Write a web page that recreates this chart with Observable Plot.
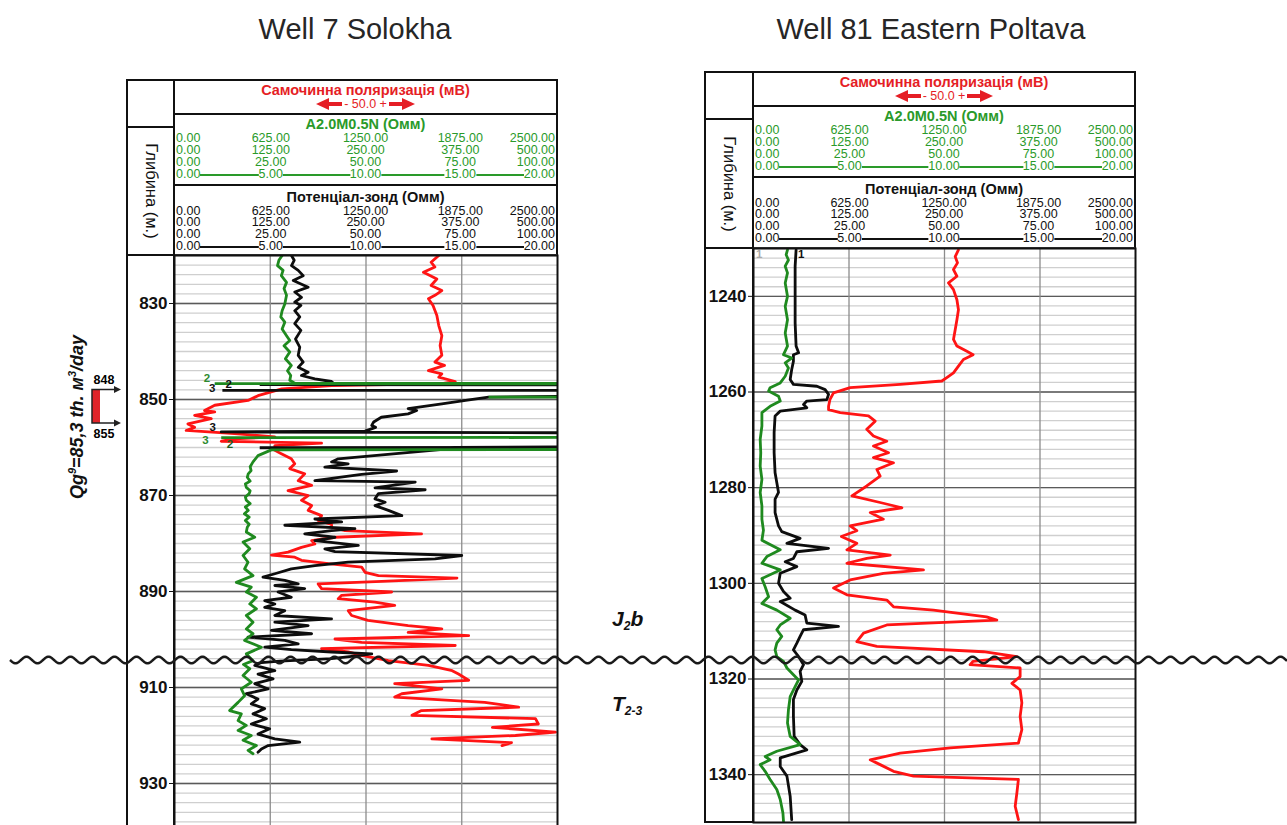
<!DOCTYPE html>
<html><head><meta charset="utf-8">
<script src="https://cdn.jsdelivr.net/npm/d3@7"></script>
<script src="https://cdn.jsdelivr.net/npm/@observablehq/plot@0.6"></script>
<style>
html,body{margin:0;padding:0;background:#fff;}
body{width:1287px;height:825px;overflow:hidden;position:relative;font-family:"Liberation Sans",Arial,sans-serif;}
.abs{position:absolute;box-sizing:border-box;}
.title{font-size:29px;line-height:29px;color:#262626;transform:translateX(-50%);white-space:nowrap;}
.box{position:absolute;box-sizing:border-box;border:2px solid #111;background:#fff;}
.box.clear{background:transparent;pointer-events:none;z-index:5;}
.ht{position:absolute;left:0;right:0;text-align:center;font-weight:bold;font-size:14.5px;line-height:13px;white-space:nowrap;}
.row{position:absolute;left:1px;right:1px;height:11px;font-size:12.5px;line-height:11px;}
.row span{position:absolute;top:0;white-space:nowrap;background:#fff;}
.row .ln{position:absolute;left:0;right:0;top:5px;height:2px;}
.rot{position:absolute;left:50%;top:50%;transform:translate(-50%,-50%) rotate(90deg);white-space:nowrap;font-size:16.5px;color:#111;}
.geo{position:absolute;font-weight:bold;font-style:italic;font-size:21px;color:#111;white-space:nowrap;}
.geo sub{font-size:12px;vertical-align:-4px;}
svg.well [aria-label="y-axis tick label"]{font-weight:bold;}
</style>
</head><body>
<script>
// ---------------- texts ----------------
const wellTitles = ["Well 7 Solokha", "Well 81 Eastern Poltava"];
const spTitle = "Самочинна поляризація (мВ)";
const spScale = "- 50.0 +";
const a2Title = "A2.0M0.5N (Омм)";
const potTitle = "Потенціал-зонд (Омм)";
const depthTitle = "Глибина (м.)";
const scaleRows = [
  ["0.00","625.00","1250.00","1875.00","2500.00"],
  ["0.00","125.00","250.00","375.00","500.00"],
  ["0.00","25.00","50.00","75.00","100.00"],
  ["0.00","5.00","10.00","15.00","20.00"]
];
const rateText = 'Qg<sup>9</sup>=85,3 th. м<sup>3</sup>/day';
const perfTop = 848, perfBottom = 855;
const horizonAbove = 'J<sub>2</sub>b';
const horizonBelow = 'T<sub>2-3</sub>';

// ---------------- depth ranges / ticks ----------------
const solokhaDepth = [820, 940];
const solokhaMajor = [830, 850, 870, 890, 910, 930];
const poltavaDepth = [1230, 1350];
const poltavaMajor = [1240, 1260, 1280, 1300, 1320, 1340];
const gridX = [5, 10, 15];

// ---------------- Well 7 Solokha curves [depth, value 0..20] ----------------
const solokhaGreen1 = [[820,5.62],[821,5.45],[822.1,5.38],[823.1,5.67],[824.2,5.58],[825.6,5.85],[826.9,5.72],[828.3,5.85],[830.1,5.76],[831.5,5.62],[832.8,5.55],[833.9,5.76],[835.3,5.62],[836.7,5.85],[837.7,6.02],[838.8,5.72],[840.1,6.02],[841.5,5.79],[842.9,6.1],[844,5.9],[845,6.07],[846,6.02],[846.6,6.28],[846.65,22]];
const solokhaGreen2 = [[860.4,22],[860.5,5.06],[861.7,4.36],[863,4.1],[864,3.95],[864.8,4.0],[865.5,3.85],[866.2,3.8],[867,3.95],[867.6,3.7],[868.3,3.75],[869,3.95],[869.6,3.9],[870.3,3.7],[871,3.75],[871.7,3.95],[872.4,3.7],[873.1,3.85],[873.8,3.65],[874.5,3.9],[875.2,3.7],[876,3.9],[876.6,3.8],[877.6,3.75],[878.7,4.19],[879.7,3.58],[881.1,3.93],[882.5,3.58],[883.9,3.84],[885.3,3.66],[886.7,4.1],[888.1,3.23],[889.1,4.01],[890.1,3.75],[891.2,4.28],[892.6,3.93],[893.6,4.28],[895,3.75],[896.4,4.1],[897.8,3.75],[898.8,4.1],[900.2,3.66],[901.6,4.54],[903,3.75],[904.4,4.1],[905.2,3.6],[906.1,3.93],[907.5,3.58],[908.9,4.01],[910.3,3.49],[911.7,3.66],[913.1,3.32],[914.8,2.88],[915.5,3.49],[916.9,3.32],[917.9,3.75],[918.95,3.32],[920,4.01],[921,3.58],[922.1,4.28],[923.1,3.84],[923.8,4.1]];
// wrapped (backup-scale) segments: [depth1, value1, depth2, value2]
const solokhaGreenWrap = [[846.7,2.1,846.75,22],[849.5,16.4,849.5,22],[857.95,2.44,857.9,22]];

const solokhaBlack1 = [[820,6.11],[821,6.25],[822.1,6.11],[823.1,6.46],[824.2,6.72],[825.2,6.2],[826.6,6.98],[827.6,6.28],[828.7,6.63],[829.7,6.28],[830.4,6.6],[831.5,6.28],[832.8,6.54],[834.2,6.28],[835.6,6.6],[837.4,6.32],[839.1,6.54],[840.8,6.46],[842.2,6.72],[843.3,6.46],[844.3,6.98],[845,6.63],[845.7,7.33],[846.25,8.2],[846.6,8.3],[846.7,22]];
const solokhaBlack2 = [[849.3,22],[849.5,16.4],[850.2,15.2],[850.9,13.96],[851.9,12.2],[852.3,12.65],[853,12.2],[853.7,10.8],[854.7,10.4],[855.4,10.3],[855.8,10.5],[856.6,9.95],[856.75,2.44],[856.95,22]];
const solokhaBlack3 = [[859.85,22],[860,14.6],[860.3,14.3],[862.35,8.55],[863,8.2],[863.4,9.07],[864.1,7.85],[864.9,11.6],[865.6,9.77],[866.9,7.33],[867.2,12.57],[868.4,10.47],[868.8,13.09],[869.6,10.65],[870.7,10.47],[871.4,11.0],[872.1,10.47],[873.1,11.17],[874.2,11.87],[874.9,7.33],[875.5,8.73],[876.2,5.76],[876.9,9.42],[877.3,8.2],[878,6.8],[878.7,8.38],[879.4,7.33],[880.4,9.6],[881.1,7.85],[881.7,8.38],[882.5,15.0],[883.2,13.6],[883.9,9.07],[884.6,7.33],[885.3,6.1],[886.3,5.24],[887,4.62],[887.7,5.76],[888.4,6.46],[888.75,5.24],[889.4,6.8],[890.1,5.41],[891.2,6.1],[891.9,4.71],[892.6,5.24],[893.3,4.71],[894,5.76],[895,5.24],[895.7,8.2],[896.4,5.24],[897.1,6.98],[898.1,5.06],[898.8,7.16],[899.5,3.84],[900.2,5.76],[900.9,6.46],[901.6,4.71],[902.1,6.1],[902.6,8.2],[903,10.3],[903.5,9.25],[904,8.2],[904.5,5.5],[904.8,4.54],[905.4,4.19],[906.5,5.24],[907.2,4.36],[908.2,5.15],[909.2,4.19],[910.3,4.89],[911.3,3.75],[912.4,4.36],[913.4,4.01],[914.4,4.71],[915.5,4.1],[916.5,4.8],[917.6,4.01],[918.6,4.97],[919.7,4.36],[920.7,5.24],[921.4,6.54],[922.1,4.89],[922.8,4.54],[923.5,4.36]];
const solokhaBlackWrap = [[846.9,4.45,846.95,22],[848.1,2.5,848.1,22],[860.05,4.45,859.95,22]];

const solokhaRed = [[820,13.8],[821.4,13.4],[822.4,13.6],[823.5,13.0],[824.9,13.7],[826.25,13.4],[827.3,13.96],[828.3,13.6],[829,13.26],[830.4,13.5],[832.5,13.7],[834.6,13.8],[836.7,13.96],[838.75,13.87],[840.8,13.96],[842.2,13.6],[842.9,14.1],[844,13.26],[844.65,13.96],[845.35,13.8],[846.25,14.66],[846.7,13.96],[847.1,8.2],[847.8,5.6],[849.2,4.36],[850.2,3.84],[851.2,2.1],[852.3,1.57],[852.6,2.1],[853.3,1.05],[854,1.92],[855.1,0.7],[855.8,1.05],[856.45,0.61],[857.1,3.14],[857.8,5.24],[858.2,3.14],[858.7,2.44],[859.1,7.68],[859.6,5.24],[860.6,5.24],[861.3,5.58],[862.35,6.1],[863.4,6.28],[864.4,6.02],[865.5,6.8],[866.9,6.46],[867.9,7.16],[869,5.93],[870,6.98],[871,6.63],[872.1,7.16],[873.1,6.98],[874.2,7.68],[875.2,7.5],[876,8.2],[876.6,8.2],[877.3,8.9],[878,12.9],[878.7,8.38],[879.4,7.16],[880.1,7.33],[880.8,6.63],[881.8,5.93],[882.4,5.06],[882.85,6.28],[883.5,6.63],[884.2,8.03],[884.9,9.77],[886,9.95],[886.7,10.65],[887.2,14.75],[887.9,10.82],[888.4,7.5],[889.4,7.68],[890.1,11.34],[890.8,8.73],[891.5,8.55],[892.2,10.47],[892.9,11.5],[894,9.07],[895,9.25],[896,10.1],[897.1,12.2],[897.8,13.96],[898.5,12.2],[899.2,15.36],[899.9,8.38],[900.6,9.77],[901.25,14.66],[901.9,7.68],[902.6,9.07],[903.3,9.77],[904.4,11.17],[905.4,13.26],[906.5,14.5],[907.2,14.83],[908.5,15.36],[909.2,11.5],[910.3,13.96],[911.3,11.87],[912,11.5],[913.1,16.2],[914.1,17.97],[914.8,12.9],[915.8,12.4],[916.5,18.85],[917.6,19.0],[918.3,16.6],[919.3,19.9],[920,17.8],[920.7,13.44],[921.5,17.6],[922.1,17.1]];

const solokhaLabels = [
  {d:845.5,u:1.7,t:"2",c:"#2e8b2e"},{d:847.6,u:1.97,t:"3",c:"#111"},{d:846.9,u:2.83,t:"2",c:"#111"},
  {d:855.8,u:2.0,t:"3",c:"#111"},{d:858.4,u:1.62,t:"3",c:"#2e8b2e"},{d:859.4,u:2.9,t:"2",c:"#1f5f1f"}
];

// ---------------- Well 81 Eastern Poltava curves ----------------
const poltavaGreen = [[1230.3,1.78],[1231.3,1.71],[1232.4,1.83],[1233.7,1.66],[1235.1,1.78],[1237.2,1.66],[1240,1.78],[1242.1,1.66],[1244.9,1.78],[1247.65,1.66],[1250.4,1.78],[1252.2,1.57],[1252.9,2.0],[1253.9,1.66],[1255,1.83],[1256.7,1.66],[1258.1,1.4],[1259.1,0.87],[1259.8,0.79],[1260.9,1.31],[1261.9,1.4],[1263,0.87],[1264.3,0.44],[1267.1,0.44],[1269.9,0.35],[1272.7,0.38],[1275.5,0.35],[1278.3,0.44],[1281,0.35],[1283.8,0.44],[1286.6,0.44],[1288.9,0.52],[1291,0.44],[1293,1.4],[1294.4,0.7],[1295.8,0.44],[1297.2,1.4],[1299,0.44],[1300.7,0.61],[1302.8,0.79],[1304.2,0.44],[1305.6,1.22],[1307.3,1.92],[1308.7,1.4],[1309.7,1.22],[1311.1,1.48],[1312.5,1.22],[1313.9,1.13],[1315.3,1.22],[1316.3,1.57],[1317.7,1.75],[1319.1,2.09],[1320.2,2.36],[1321.6,2.18],[1323.7,1.92],[1326.4,1.83],[1329.2,1.78],[1332,1.92],[1333.7,2.44],[1335.1,1.22],[1336.2,0.61],[1336.9,0.87],[1337.9,0.35],[1339.3,0.61],[1341,0.87],[1343.1,1.22],[1345.2,1.4],[1348,1.54],[1349.7,1.57]];
const poltavaBlack = [[1230.3,2.23],[1233.7,2.18],[1238.6,2.18],[1245.6,2.18],[1250.4,2.23],[1251.8,2.36],[1252.2,2.09],[1253.6,2.09],[1255.3,2.0],[1257.4,1.92],[1258.4,2.09],[1258.8,3.32],[1259.5,3.75],[1260.5,3.93],[1261.6,3.84],[1261.9,2.79],[1262.6,2.62],[1263.3,2.79],[1264,1.4],[1265,1.13],[1268.5,1.08],[1272.7,1.08],[1276.9,1.13],[1281,1.31],[1282.4,1.13],[1285.2,1.13],[1288,1.31],[1289.2,1.48],[1290.6,2.44],[1291.65,1.75],[1292.7,3.93],[1293.4,2.27],[1294.8,2.09],[1295.5,1.66],[1296.5,2.27],[1297.9,1.4],[1300,1.31],[1301.7,1.57],[1303.1,1.92],[1303.8,1.4],[1305.6,2.18],[1306.6,2.7],[1308.3,2.79],[1309,4.45],[1309.7,2.62],[1311.1,2.44],[1312.5,2.27],[1313.9,2.09],[1315.3,2.36],[1317,2.62],[1318.4,2.44],[1320.5,2.53],[1322.3,2.27],[1324.3,2.09],[1327.8,2.09],[1332,2.13],[1333.7,2.44],[1334.8,2.79],[1336.5,1.4],[1338.3,1.4],[1340.3,1.75],[1344.5,1.92],[1349.4,2.0]];
const poltavaRed = [[1230.3,10.73],[1231.7,10.56],[1233,10.68],[1234.4,10.47],[1235.8,10.65],[1237.2,10.21],[1238.6,10.47],[1240.7,10.65],[1242.8,10.73],[1244.9,10.65],[1247,10.56],[1249,10.47],[1250.4,10.65],[1251.5,11.17],[1252.2,11.5],[1253.2,10.99],[1254.6,10.73],[1256,10.47],[1257,10.12],[1257.7,9.86],[1258.4,7.68],[1259.1,5.06],[1260.2,4.19],[1261.6,4.0],[1263,3.93],[1263.7,3.93],[1264.3,4.54],[1265,6.02],[1266.1,6.37],[1267.8,5.93],[1269.2,6.28],[1270.3,6.98],[1271.3,6.28],[1272.7,7.07],[1273.7,6.28],[1274.8,7.33],[1276.2,6.46],[1277.6,6.63],[1279.65,5.93],[1281.7,5.15],[1283.1,6.63],[1284.2,7.77],[1285.2,6.11],[1286.6,6.8],[1288,5.06],[1289,5.41],[1290.2,4.6],[1291.65,5.41],[1293,4.89],[1294.1,7.16],[1294.8,5.93],[1295.8,4.89],[1297.2,8.9],[1297.9,6.8],[1299.3,5.06],[1301,4.19],[1302.4,4.89],[1303.5,6.98],[1304.9,7.33],[1305.6,9.42],[1307,12.2],[1307.7,12.74],[1308.7,6.98],[1310.4,5.76],[1312.2,5.41],[1313.2,6.46],[1314.3,12.04],[1315.3,13.79],[1316.3,11.5],[1317,11.34],[1317.7,13.96],[1319.5,13.96],[1320.9,13.53],[1322.3,13.96],[1325,14.05],[1327.8,13.96],[1330.6,14.05],[1333.4,13.87],[1334.4,10.3],[1335.5,7.68],[1336.9,6.11],[1337.9,6.63],[1339.3,7.33],[1340.3,8.38],[1341,13.87],[1343.8,13.79],[1346.6,13.7],[1349.4,13.87]];
const poltavaLabels = [{d:1231.3,u:0.3,t:"1",c:"#aaa"},{d:1231.3,u:2.5,t:"1",c:"#111"}];

// ---------------- colours ----------------
const cGreen = "#1f8a1f", cRed = "#ff1414", cBlack = "#0d0d0d";
const hGreen = "#2a9a2a", hRed = "#e51e25";

// ---------------- layout helpers ----------------
function box(x, y, w, h, inner = "", cls = "") {
  return `<div class="box ${cls}" style="left:${x-1}px;top:${y-1}px;width:${w+2}px;height:${h+2}px">${inner}</div>`;
}
function rowsHTML(color, top0, step) {
  return scaleRows.map((r, ri) => {
    const last = ri === scaleRows.length - 1;
    const spans = r.map((t, i) => {
      const pos = i === 0 ? "left:0" : i === r.length - 1 ? "right:0" : `left:${i * 25}%;transform:translateX(-50%)`;
      return `<span style="${pos}">${t}</span>`;
    }).join("");
    const ln = last ? `<div class="ln" style="background:${color}"></div>` : "";
    return `<div class="row" style="top:${(top0 + ri * step).toFixed(1)}px;color:${color}">${ln}${spans}</div>`;
  }).join("");
}
function arrowSVG(dir) {
  const poly = dir < 0 ? "0,6 13,0 13,12" : "26,6 13,0 13,12";
  const rx = dir < 0 ? 12 : 0;
  return `<svg width="26" height="12" style="vertical-align:-2px"><polygon points="${poly}" fill="${hRed}"/><rect x="${rx}" y="4" width="14" height="4" fill="${hRed}"/></svg>`;
}

function buildWell(cfg) {
  const {colLeft, trackLeft, trackRight, top, plotTop, plotH, depth, major, green, black, red, greenWrap, blackWrap, labels, title, titleX} = cfg;
  const W = trackRight - trackLeft;
  const colW = trackLeft - colLeft;
  let h = "";
  h += `<div class="abs title" style="left:${titleX}px;top:15px">${title}</div>`;
  h += box(colLeft, top, colW, 47);
  h += box(colLeft, top + 47, colW, plotTop - top - 47, `<div class="rot">${depthTitle}</div>`);
  h += box(trackLeft, top, W, 34,
    `<div class="ht" style="top:3px;color:${hRed}">${spTitle}</div>` +
    `<div class="ht" style="top:17px;font-weight:normal;font-size:12.5px;line-height:12px;color:${hRed}">${arrowSVG(-1)}<span style="padding:0 2px">${spScale}</span>${arrowSVG(1)}</div>`);
  h += box(trackLeft, top + 34, W, 71,
    `<div class="ht" style="top:3px;color:${hGreen}">${a2Title}</div>` + rowsHTML(hGreen, 17.5, 12.1));
  h += box(trackLeft, top + 105, W, plotTop - top - 105,
    `<div class="ht" style="top:5px;color:#111">${potTitle}</div>` + rowsHTML("#111", 19.5, 11.8));
  const wrap = document.createElement("div");
  wrap.innerHTML = h;
  document.body.appendChild(wrap);

  const minor = d3.range(depth[0], depth[1] + 0.01, 2);
  const lineOpt = (stroke) => ({x: d => d[1], y: d => d[0], stroke, strokeWidth: 2.8, clip: true, strokeLinejoin: "round"});
  const linkOpt = (stroke) => ({x1: d => d[1], y1: d => d[0], x2: d => d[3], y2: d => d[2], stroke, strokeWidth: 2.8, clip: true});
  const plot = Plot.plot({
    width: trackRight - colLeft + 1,
    height: plotH,
    marginLeft: colW, marginRight: 1, marginTop: 0, marginBottom: 0,
    className: "well",
    style: {fontFamily: "'Liberation Sans', Arial, sans-serif", background: "transparent", overflow: "visible"},
    x: {domain: [0, 20], axis: null},
    y: {domain: depth, reverse: true, axis: null},
    marks: [
      Plot.ruleY(minor, {stroke: "#cfcfcf", strokeWidth: 1.3}),
      Plot.ruleY(major, {stroke: "#5a5a5a", strokeWidth: 1.3}),
      Plot.ruleX(gridX, {stroke: "#8c8c8c", strokeWidth: 1.3}),
      Plot.axisY({ticks: major, anchor: "left", tickSize: 5, tickPadding: 2, fontSize: 17, fontWeight: "bold", tickFormat: d => String(d), label: null, stroke: "#111", fill: "#111"}),
      ...red.map(r => Plot.line(r, lineOpt(cRed))),
      ...black.map(b => Plot.line(b, lineOpt(cBlack))),
      Plot.link(blackWrap, linkOpt(cBlack)),
      ...green.map(g => Plot.line(g, lineOpt(cGreen))),
      Plot.link(greenWrap, linkOpt(cGreen)),
      Plot.text(labels, {x: "u", y: "d", text: "t", fill: "c", fontSize: 11.5, fontWeight: "bold", clip: true}),
      Plot.frame({stroke: "#111", strokeWidth: 2})
    ]
  });
  plot.style.position = "absolute";
  plot.style.left = colLeft + "px";
  plot.style.top = plotTop + "px";
  document.body.appendChild(plot);
  const col = document.createElement("div");
  col.innerHTML = box(colLeft, plotTop, colW, plotH, "", "clear");
  document.body.appendChild(col);
  return plot;
}

const leftPlot = buildWell({
  colLeft: 127, trackLeft: 174, trackRight: 557, top: 80, plotTop: 255, plotH: 576,
  depth: solokhaDepth, major: solokhaMajor,
  green: [solokhaGreen1, solokhaGreen2], black: [solokhaBlack1, solokhaBlack2, solokhaBlack3], red: [solokhaRed],
  greenWrap: solokhaGreenWrap, blackWrap: solokhaBlackWrap, labels: solokhaLabels,
  title: wellTitles[0], titleX: 355
});
buildWell({
  colLeft: 705, trackLeft: 753, trackRight: 1135, top: 72, plotTop: 248, plotH: 574,
  depth: poltavaDepth, major: poltavaMajor,
  green: [poltavaGreen], black: [poltavaBlack], red: [poltavaRed],
  greenWrap: [], blackWrap: [], labels: poltavaLabels,
  title: wellTitles[1], titleX: 931
});

// ---------------- annotations ----------------
const ann = document.createElement("div");
ann.innerHTML =
  `<div class="abs" style="left:77px;top:417px;transform:translate(-50%,-50%) rotate(-90deg);white-space:nowrap;font-style:italic;font-weight:bold;font-size:18px;color:#111">${rateText.replace(/<sup>/g,'<sup style="font-size:11px;vertical-align:7px;line-height:0">')}</div>` +
  `<div class="geo" style="left:612px;top:607px">${horizonAbove}</div>` +
  `<div class="geo" style="left:612px;top:692px">${horizonBelow}</div>`;
document.body.appendChild(ann);

const ys = leftPlot.scale("y");
const yTop = 255 + ys.apply(perfTop), yBot = 255 + ys.apply(perfBottom);
const over = d3.select("body").append("svg")
  .attr("width", 1287).attr("height", 825)
  .style("position", "absolute").style("left", 0).style("top", 0).style("z-index", 10).style("pointer-events", "none");
const g = over.append("g");
g.append("rect").attr("x", 92).attr("y", yTop).attr("width", 8).attr("height", yBot - yTop).attr("fill", "#e0242a");
g.append("path").attr("d", `M116,${yTop} L92,${yTop} L92,${yBot} L116,${yBot}`).attr("fill", "none").attr("stroke", "#222").attr("stroke-width", 1.5);
[yTop, yBot].forEach(y => g.append("path").attr("d", `M114,${y-3.5} L121,${y} L114,${y+3.5} Z`).attr("fill", "#222"));
g.append("text").attr("x", 104).attr("y", yTop - 5).attr("text-anchor", "middle").attr("font-weight", "bold").attr("font-size", 12.5).attr("font-family", "Liberation Sans, Arial").text(perfTop);
g.append("text").attr("x", 104).attr("y", yBot + 15).attr("text-anchor", "middle").attr("font-weight", "bold").attr("font-size", 12.5).attr("font-family", "Liberation Sans, Arial").text(perfBottom);

// unconformity wavy line across both wells
const waveY = 660, waveAmp = 3.3, wavePeriod = 22;
const wave = d3.line()(d3.range(10, 1288, 1).map(x => [x, waveY + waveAmp * Math.sin(2 * Math.PI * (x - 10) / wavePeriod)]));
over.append("path").attr("d", wave).attr("fill", "none").attr("stroke", "#1a1a1a").attr("stroke-width", 2.5);
</script>
</body></html>
